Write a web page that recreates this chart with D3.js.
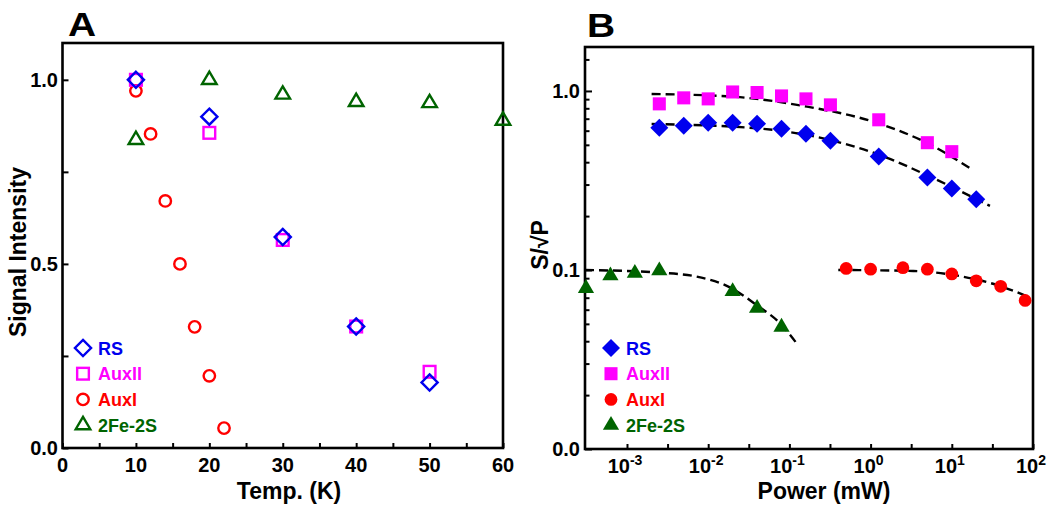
<!DOCTYPE html>
<html><head><meta charset="utf-8">
<script src="https://cdn.jsdelivr.net/npm/d3@7"></script>
<style>body{margin:0;background:#fff}svg{display:block}text{font-family:"Liberation Sans",Arial,sans-serif;font-weight:bold}</style>
</head><body>
<svg id="c" width="1050" height="511"></svg>
<script>
// ---------- Panel A data (Temp K vs signal intensity) ----------
const aTempRS = [10, 20, 30, 40, 50];
const aRS = [1.0, 0.90, 0.573, 0.33, 0.178];
const aTempAuxII = [10, 20, 30, 40, 50];
const aAuxII = [1.0, 0.856, 0.565, 0.33, 0.207];
const aTempAuxI = [10, 12, 14, 16, 18, 20, 22];
const aAuxI = [0.97, 0.853, 0.671, 0.5, 0.329, 0.196, 0.054];
const aTemp2Fe = [10, 20, 30, 40, 50, 60];
const a2Fe = [0.837, 1.0, 0.96, 0.94, 0.937, 0.889];
const aXTicks = [0, 10, 20, 30, 40, 50, 60];
const aYTicks = [0.0, 0.5, 1.0];

// ---------- Panel B data (Power mW vs S/sqrtP) ----------
const bPowRS = [0.0025, 0.005, 0.01, 0.02, 0.04, 0.08, 0.16, 0.32, 1.26, 5, 10, 20];
const bRS = [0.623, 0.64, 0.664, 0.664, 0.656, 0.615, 0.577, 0.527, 0.43, 0.329, 0.285, 0.248];
const bPowAuxII = [0.0025, 0.005, 0.01, 0.02, 0.04, 0.08, 0.16, 0.32, 1.26, 5, 10];
const bAuxII = [0.847, 0.915, 0.903, 0.987, 0.98, 0.938, 0.903, 0.836, 0.69, 0.514, 0.458];
const bPowAuxI = [0.5, 1, 2.5, 5, 10, 20, 40, 80];
const bAuxI = [0.102, 0.101, 0.103, 0.101, 0.095, 0.087, 0.081, 0.0676];
const bPow2Fe = [3.125e-4, 6.25e-4, 1.25e-3, 2.5e-3, 0.02, 0.04, 0.08];
const b2Fe = [0.079, 0.093, 0.096, 0.099, 0.0758, 0.0612, 0.048];
// dashed fit curves
const fitPowAuxII = [0.00201, 0.0202, 0.165, 1.07, 4.95, 16.7];
const fitAuxII = [0.962, 0.929, 0.817, 0.674, 0.512, 0.371];
const fitPowRS = [0.00201, 0.0395, 0.316, 1.31, 5.4, 29.5];
const fitRS = [0.654, 0.619, 0.532, 0.438, 0.332, 0.228];
const fitPow2Fe = [3.04e-4, 0.00255, 0.00721, 0.0185, 0.0394, 0.0766, 0.123];
const fit2Fe = [0.1, 0.0966, 0.0918, 0.080, 0.0637, 0.0504, 0.0389];
const fitPowAuxI = [0.40, 3.36, 10.4, 35.7, 86.7];
const fitAuxI = [0.1, 0.0987, 0.0938, 0.0825, 0.071];
const bXTicks = [1e-3, 1e-2, 1e-1, 1, 10, 100];
const bXTickExp = ["-3", "-2", "-1", "0", "1", "2"];
const bYTicks = [0.01, 0.1, 1];
const bYTickLabels = ["0.0", "0.1", "1.0"];

const seriesNames = ["RS", "AuxII", "AuxI", "2Fe-2S"];
const seriesColors = ["#0000ee", "#ff00ff", "#ff0000", "#006400"];

const svg = d3.select("#c");

function marker(g, kind, x, y, color, filled, s) {
  let p;
  if (kind === "RS") {
    const r = s * 0.62;
    p = g.append("path").attr("d", `M${x},${y - r}L${x + r},${y}L${x},${y + r}L${x - r},${y}Z`);
  } else if (kind === "AuxII") {
    const h = s * 0.45;
    p = g.append("rect").attr("x", x - h).attr("y", y - h).attr("width", 2 * h).attr("height", 2 * h);
  } else if (kind === "AuxI") {
    p = g.append("circle").attr("cx", x).attr("cy", y).attr("r", s * 0.44);
  } else {
    const h = s * 0.95, w = s * 0.56;
    p = g.append("path").attr("d", `M${x},${y - h * 2 / 3}L${x + w},${y + h / 3}L${x - w},${y + h / 3}Z`);
  }
  if (filled) p.attr("fill", color).attr("stroke", "none");
  else p.attr("fill", "none").attr("stroke", color).attr("stroke-width", 2.4);
}

// ================= Panel A =================
const ax = d3.scaleLinear().domain([0, 60]).range([62.5, 503]);
const ay = d3.scaleLinear().domain([0, 1.1]).range([448, 43]);
const gA = svg.append("g");

// ticks (inward)
gA.append("g").attr("transform", "translate(0,448)")
  .call(d3.axisBottom(ax).tickValues(d3.range(0, 61, 5)).tickSize(-5).tickFormat(""))
  .call(g => g.select(".domain").remove())
  .call(g => g.selectAll("line").attr("stroke", "#000").attr("stroke-width", 2));
gA.append("g").attr("transform", "translate(62.5,0)")
  .call(d3.axisLeft(ay).tickValues([0, 0.25, 0.5, 0.75, 1.0]).tickSize(-6).tickFormat(""))
  .call(g => g.select(".domain").remove())
  .call(g => g.selectAll("line").attr("stroke", "#000").attr("stroke-width", 2));
gA.selectAll(".axl").data(aXTicks).join("text")
  .attr("x", d => ax(d)).attr("y", 472).attr("text-anchor", "middle").attr("font-size", 20).text(d => d);
gA.selectAll(".ayl").data(aYTicks).join("text")
  .attr("x", 58).attr("y", d => ay(d) + 7).attr("text-anchor", "end").attr("font-size", 20).text(d => d.toFixed(1));
gA.append("rect").attr("x", 62.5).attr("y", 43).attr("width", 503 - 62.5).attr("height", 448 - 43)
  .attr("fill", "none").attr("stroke", "#000").attr("stroke-width", 2.6);

const aSeries = [[aTempRS, aRS], [aTempAuxII, aAuxII], [aTempAuxI, aAuxI], [aTemp2Fe, a2Fe]];
const aOrder = [3, 2, 1, 0];
aOrder.forEach(i => {
  const [xs, ys] = aSeries[i];
  xs.forEach((t, j) => marker(gA, seriesNames[i], ax(t), ay(ys[j]), seriesColors[i], false, 13));
});
// legend A
seriesNames.forEach((n, i) => {
  const cy = 348 + i * 25.7;
  marker(gA, n, 83, cy, seriesColors[i], false, 13);
  gA.append("text").attr("x", 98).attr("y", cy + 6.5).attr("font-size", 18).attr("fill", seriesColors[i]).text(n);
});
gA.append("text").attr("x", 68).attr("y", 36).attr("font-size", 33).attr("transform", "translate(68,0) scale(1.18,1) translate(-68,0)").text("A");
gA.append("text").attr("transform", "translate(26,252) rotate(-90)").attr("text-anchor", "middle").attr("font-size", 23).text("Signal Intensity");
gA.append("text").attr("x", 289).attr("y", 499).attr("text-anchor", "middle").attr("font-size", 23).text("Temp. (K)");

// ================= Panel B =================
const bx = d3.scaleLog().domain([3.04e-4, 100]).range([585, 1033]);
const by = d3.scaleLog().domain([0.01, 1.76]).range([449, 47]);
const gB = svg.append("g");

const bxMinor = [3.16e-3, 3.16e-2, 3.16e-1, 3.16, 31.6];
gB.append("g").attr("transform", "translate(0,449)")
  .call(d3.axisBottom(bx).tickValues(bXTicks.concat(bxMinor)).tickSize(-5).tickFormat(""))
  .call(g => g.select(".domain").remove())
  .call(g => g.selectAll("line").attr("stroke", "#000").attr("stroke-width", 2));
const byMinor = [];
[0.01, 0.1].forEach(b => { for (let k = 2; k <= 9; k++) byMinor.push(b * k); });
byMinor.push(1.5);
gB.append("g").attr("transform", "translate(585,0)")
  .call(d3.axisLeft(by).tickValues(bYTicks).tickSize(-7).tickFormat(""))
  .call(g => g.select(".domain").remove())
  .call(g => g.selectAll("line").attr("stroke", "#000").attr("stroke-width", 2));
gB.append("g").attr("transform", "translate(585,0)")
  .call(d3.axisLeft(by).tickValues(byMinor.filter(v => v < 1.76)).tickSize(-4.5).tickFormat(""))
  .call(g => g.select(".domain").remove())
  .call(g => g.selectAll("line").attr("stroke", "#000").attr("stroke-width", 2));
bXTicks.forEach((v, i) => {
  const t = gB.append("text").attr("x", bx(v) - 2).attr("y", 473).attr("text-anchor", "middle").attr("font-size", 20);
  t.append("tspan").text("10");
  t.append("tspan").attr("dy", -8).attr("font-size", 14).text(bXTickExp[i]);
});
bYTicks.forEach((v, i) => {
  gB.append("text").attr("x", 580).attr("y", by(v) + 7).attr("text-anchor", "end").attr("font-size", 20).text(bYTickLabels[i]);
});
gB.append("rect").attr("x", 585).attr("y", 47).attr("width", 1033 - 585).attr("height", 449 - 47)
  .attr("fill", "none").attr("stroke", "#000").attr("stroke-width", 2.6);

const line = d3.line().x(d => bx(d[0])).y(d => by(d[1])).curve(d3.curveMonotoneX);
[[fitPowAuxII, fitAuxII], [fitPowRS, fitRS], [fitPow2Fe, fit2Fe], [fitPowAuxI, fitAuxI]].forEach(([xs, ys]) => {
  gB.append("path").attr("d", line(xs.map((x, j) => [x, ys[j]])))
    .attr("fill", "none").attr("stroke", "#000").attr("stroke-width", 2.4).attr("stroke-dasharray", "9,5");
});
const bSeries = [[bPowRS, bRS], [bPowAuxII, bAuxII], [bPowAuxI, bAuxI], [bPow2Fe, b2Fe]];
[1, 0, 2, 3].forEach(i => {
  const [xs, ys] = bSeries[i];
  xs.forEach((p, j) => marker(gB, seriesNames[i], bx(p), by(ys[j]), seriesColors[i], true, 14.5));
});
seriesNames.forEach((n, i) => {
  const cy = 348 + i * 25.7;
  marker(gB, n, 611, cy, seriesColors[i], true, 14.5);
  gB.append("text").attr("x", 626).attr("y", cy + 6.5).attr("font-size", 18).attr("fill", seriesColors[i]).text(n);
});
gB.append("text").attr("x", 587).attr("y", 37).attr("font-size", 33).attr("transform", "translate(587,0) scale(1.18,1) translate(-587,0)").text("B");
gB.append("text").attr("transform", "translate(548,245) rotate(-90)").attr("text-anchor", "middle").attr("font-size", 23).text("S/\u221AP");
gB.append("text").attr("x", 824).attr("y", 499).attr("text-anchor", "middle").attr("font-size", 23).text("Power (mW)");
</script>
</body></html>
